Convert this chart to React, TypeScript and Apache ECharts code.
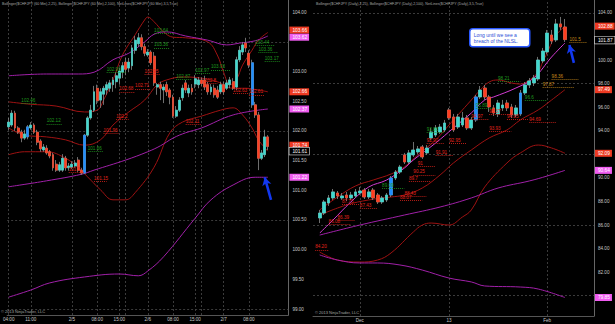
import React, { useEffect, useRef } from "react";
import * as echarts from "echarts";

// ---------- LEFT PANEL (60 min) ----------
const leftSlotCount = 89;
const leftLabelIdx = [0, 7, 20, 28, 35, 44, 52, 59, 68, 76];
const leftVLineIdx = [0, 7, 20, 28, 35, 37, 44, 52, 59, 61, 68, 76];
const leftHLines = [99, 100.5, 102, 103.5];
const leftHiddenTicks = [103.5];
const leftBlue = [6, 24, 77];
// [open, close, low, high]
const leftCandles: number[][] = [
  [102.07,102.15,102.02,102.22],[102.10,102.30,102.07,102.35],[102.30,102.05,102.00,102.34],[102.05,101.98,101.95,102.08],
  [101.98,101.88,101.81,102.02],[101.88,101.95,101.85,102.02],[101.90,102.07,101.86,102.10],[102.05,102.10,102.02,102.15],
  [102.10,101.98,101.95,102.13],[101.98,101.81,101.76,102.02],[101.83,101.70,101.65,101.86],[101.68,101.73,101.65,101.78],
  [101.71,101.63,101.60,101.76],[101.65,101.58,101.54,101.68],[101.60,101.38,101.33,101.63],[101.44,101.34,101.31,101.51],
  [101.34,101.43,101.31,101.48],[101.34,101.54,101.31,101.61],[101.54,101.38,101.33,101.58],[101.38,101.41,101.33,101.46],
  [101.39,101.44,101.36,101.49],[101.41,101.46,101.38,101.51],[101.51,101.34,101.31,101.56],[101.34,101.29,101.26,101.38],
  [101.29,101.93,101.28,101.95],[101.93,102.22,101.90,102.25],[102.22,102.35,102.19,102.44],[102.35,102.66,102.32,102.76],
  [102.72,102.51,102.45,102.78],[102.52,102.66,102.39,102.72],[102.62,102.72,102.44,102.76],[102.69,102.78,102.61,102.83],
  [102.72,102.81,102.66,102.86],[102.78,102.86,102.66,102.91],[102.83,102.93,102.72,102.99],[102.89,103.01,102.78,103.06],
  [102.99,103.10,102.89,103.16],[103.16,103.04,102.94,103.23],[103.06,103.16,102.99,103.23],[103.10,103.40,103.03,103.45],
  [103.36,103.53,103.30,103.60],[103.47,103.57,103.42,103.65],[103.57,103.42,103.36,103.63],[103.42,103.31,103.26,103.47],
  [103.28,103.33,103.25,103.38],[103.33,103.15,103.11,103.36],[103.26,102.81,102.76,103.33],[102.74,102.78,102.61,102.81],
  [102.78,102.72,102.52,102.83],[102.69,102.74,102.47,102.79],[102.78,102.66,102.59,102.83],[102.69,102.57,102.45,102.72],
  [102.57,102.25,102.22,102.61],[102.25,102.35,102.22,102.42],[102.35,102.52,102.32,102.57],[102.56,102.72,102.51,102.78],
  [102.81,102.69,102.64,102.86],[102.64,102.72,102.57,102.78],[102.72,102.66,102.61,102.79],[102.79,102.88,102.72,102.94],
  [102.78,102.86,102.72,102.91],[102.86,102.80,102.76,102.90],[102.86,102.74,102.69,102.93],[102.78,102.66,102.61,102.83],
  [102.66,102.74,102.61,102.79],[102.72,102.61,102.56,102.78],[102.69,102.57,102.54,102.76],[102.66,102.78,102.62,102.83],
  [102.78,102.66,102.61,102.83],[102.72,102.81,102.69,102.86],[102.78,102.86,102.72,102.91],[102.83,102.72,102.69,102.89],
  [102.74,103.20,102.69,103.25],[103.20,103.36,103.16,103.43],[103.33,103.45,103.28,103.50],[103.48,103.40,103.33,103.57],
  [103.31,103.11,103.06,103.36],[103.15,102.44,102.39,103.20],[102.44,102.27,102.22,102.49],[102.27,101.54,101.34,102.32],
  [101.54,101.63,101.51,101.68],[101.60,101.90,101.56,102.02],[101.90,101.74,101.68,101.93],
];
const leftBB25Upper = [[0,102.49],[7,102.45],[15,102.42],[24,102.32],[28,102.35],[30,102.52],[33,102.86],[36,103.28],[40,103.62],[43,103.87],[44,103.92],[46,103.84],[49,103.67],[52,103.58],[56,103.57],[63,103.50],[66,103.28],[68,102.99],[70,102.78],[72,102.86],[74,103.11],[77,103.36],[79,103.53],[82,103.66]];
const leftBB25Mid = [[0,102.05],[5,101.93],[12,101.90],[18,101.85],[24,101.76],[29,101.85],[33,102.10],[38,102.32],[43,102.52],[47,102.78],[50,102.86],[55,102.91],[61,102.89],[66,102.83],[71,102.72],[75,102.72],[79,102.69],[82,102.66]];
const leftBB25Lower = [[0,101.60],[5,101.65],[12,101.65],[18,101.54],[22,101.38],[26,101.17],[29,101.01],[33,100.84],[37,100.84],[40,100.96],[46,101.39],[51,101.97],[55,102.15],[61,102.25],[67,102.35],[71,102.39],[74,102.27],[77,102.05],[79,101.85],[82,101.66]];
const leftBB100Upper = [[0,102.93],[12,102.96],[22,102.96],[27,102.99],[33,103.20],[38,103.31],[43,103.50],[46,103.63],[50,103.67],[56,103.60],[63,103.53],[69,103.45],[73,103.48],[78,103.52],[82,103.60]];
const leftBB100Mid = [[0,101.06],[12,101.16],[23,101.27],[27,101.34],[37,101.51],[44,101.65],[48,101.75],[52,101.88],[56,101.97],[61,102.05],[71,102.27],[82,102.37]];
const leftBB100Lower = [[0,99.20],[7,99.32],[13,99.44],[24,99.54],[35,99.59],[41,99.56],[44,99.64],[49,99.88],[59,100.53],[64,100.84],[71,101.09],[78,101.22],[82,101.22]];
// NetLines labels: [text, from, to, level, kind]
const leftNetLabels: [string, number, number, number, string][] = [
  ["102.99", 31, 37, 102.99, "g"], ["102.87", 53, 58, 102.87, "g"], ["102.97", 59, 64, 102.97, "g"], ["103.03", 64, 70, 103.03, "g"],
  ["103.44", 78, 84, 103.44, "g"], ["103.36", 79, 85, 103.33, "g"], ["103.17", 81, 86, 103.17, "g"], ["103.64", 46, 52, 103.64, "g"],
  ["103.36", 46, 51, 103.40, "g"], ["102.46", 4, 9, 102.46, "g"], ["102.12", 12, 17, 102.12, "g"], ["101.66", 25, 30, 101.66, "g"],
  ["102.95", 43, 48, 102.95, "r"], ["102.71", 40, 45, 102.71, "r"], ["102.68", 35, 40, 102.66, "r"], ["102.2", 34, 38, 102.2, "r"],
  ["101.96", 30, 35, 101.96, "r"], ["101.3", 19, 24, 101.3, "r"], ["101.15", 27, 31, 101.15, "r"], ["102.11", 56, 61, 102.11, "r"],
  ["102.63", 71, 76, 102.63, "r"], ["102.61", 76, 81, 102.61, "r"], ["102.8", 62, 66, 102.8, "r"],
];
// axis price markers: [text, level, kind]
const leftMarkers: [string, number, string][] = [
  ["103.66", 103.70, "r"], ["103.62", 103.58, "p"], ["102.66", 102.66, "r"], ["102.37", 102.37, "p"],
  ["101.74", 101.76, "r"], ["101.61", 101.66, "k"], ["101.22", 101.22, "p"],
];

// ---------- RIGHT PANEL (Daily) ----------
const rightSlotCount = 63;
const rightLabels: Record<number, string> = { 10: "Dec", 30: "13", 52: "Feb" };
const rightVLineIdx = [10, 30, 52];
const rightHLines = [80, 86, 92, 98, 104];
const rightHiddenTicks = [80, 92, 102];
const rightBlue = [17, 36, 46];
const rightCandles: number[][] = [
  [86.60,87.02,86.17,87.28],[87.02,87.96,86.85,88.13],[87.87,88.30,87.62,88.55],[88.30,88.81,88.13,89.06],
  [88.72,88.47,88.21,88.89],[88.30,88.47,88.13,88.72],[88.55,88.30,88.04,88.81],[88.30,88.55,88.13,88.81],
  [88.47,88.81,88.30,89.06],[88.72,88.89,88.55,89.23],[88.97,88.38,88.21,89.14],[88.38,88.81,88.21,89.06],
  [88.97,88.30,88.13,89.14],[88.55,87.96,87.79,88.72],[87.96,88.30,87.79,88.47],[88.13,88.55,87.96,88.72],
  [88.55,89.99,88.38,90.16],[89.99,90.50,89.82,90.67],[90.50,90.93,90.33,91.10],[91.95,91.35,91.18,92.12],
  [91.35,92.12,91.18,92.37],[91.95,92.37,91.78,93.05],[92.20,92.46,92.03,92.71],[92.63,91.78,91.61,92.79],
  [92.12,92.54,91.95,92.79],[93.39,93.90,93.22,94.24],[93.64,94.24,93.47,94.49],[93.90,94.32,93.73,94.58],
  [94.07,94.66,93.90,94.92],[95.77,95.09,94.92,95.94],[95.17,94.07,93.90,95.43],[94.32,95.17,94.15,95.43],
  [94.49,95.09,94.32,95.60],[95.09,94.24,94.07,95.34],[94.24,94.92,94.07,95.17],[94.92,96.87,94.75,97.04],
  [96.87,97.46,96.70,97.80],[97.63,96.87,96.62,97.89],[96.87,96.02,95.60,97.04],[95.94,95.51,95.26,96.19],
  [95.43,96.36,95.17,96.62],[95.94,96.19,95.68,96.62],[96.36,95.94,95.68,96.62],[96.02,95.34,95.09,96.28],
  [95.34,95.94,95.17,96.19],[95.43,97.21,95.26,97.46],[97.21,97.89,97.04,98.14],[97.89,98.23,97.63,98.48],
  [98.06,98.48,97.80,98.74],[98.40,100.01,98.23,100.27],[99.93,100.77,99.76,101.03],[100.69,102.30,100.52,102.56],
  [102.13,101.62,101.37,102.56],[101.71,103.07,101.54,103.49],[103.07,102.81,102.56,103.66],[102.81,101.74,101.54,103.49],
];
const rightFirstIdx = 1;
const rightBB25Upper = [[1,87.28],[5,88.38],[9,89.31],[13,89.82],[17,90.33],[20,90.93],[23,91.95],[27,93.22],[30,94.49],[32,95.34],[35,96.61],[37,97.46],[39,98.14],[41,98.31],[44,98.06],[46,97.97],[48,98.31],[50,98.99],[51,99.84],[52,100.61],[53,101.45],[54,102.13],[56,102.88]];
const rightBB25Mid = [[1,86.85],[7,87.70],[12,88.13],[17,88.38],[20,88.55],[24,89.14],[28,90.25],[31,91.27],[35,92.37],[39,93.39],[43,94.07],[46,94.92],[50,95.77],[53,96.61],[56,97.49]];
const rightBB25Lower = [[1,83.71],[5,83.03],[10,82.86],[14,83.03],[17,83.63],[22,85.41],[24,86.00],[26,86.17],[30,86.00],[33,86.68],[35,87.28],[38,89.23],[43,91.27],[46,92.12],[50,92.79],[53,92.54],[56,92.09]];
const rightBB100Upper = [[1,85.15],[10,86.00],[20,86.85],[28,87.53],[35,88.30],[41,89.14],[48,89.74],[52,90.16],[56,90.64]];
const rightBB100Lower = [[1,83.46],[5,83.03],[10,82.78],[14,82.78],[19,82.61],[24,82.18],[30,81.50],[35,81.17],[38,80.83],[46,80.74],[50,80.57],[56,79.85]];
const rightMagenta = [[1,85.32],[4,86.43],[8,87.96],[12,89.23],[16,89.82],[20,90.84],[22,91.52],[27,92.96],[31,94.24],[35,95.51],[38,96.61],[40,96.87],[45,97.63],[49,98.48],[53,100.26],[56,101.45]];
const rightNetLabels: [string, number, number, number, string][] = [
  ["98.21", 41, 46, 98.21, "g"], ["96.6", 47, 52, 96.6, "g"], ["98.36", 53, 59, 98.36, "o"], ["97.87", 51, 58, 97.67, "o"],
  ["101.5", 57, 61, 101.5, "o"], ["95.89", 36, 40, 95.89, "g"], ["95.37", 39, 44, 95.37, "r"], ["94.97", 35, 39, 94.97, "r"],
  ["93.93", 39, 44, 93.93, "r"], ["94.95", 43, 48, 94.95, "r"], ["94.69", 48, 54, 94.69, "r"], ["93.86", 25, 29, 93.86, "g"],
  ["92.95", 30, 34, 92.95, "r"], ["92.92", 25, 29, 92.92, "r"], ["91.91", 27, 31, 91.91, "r"], ["91", 23, 27, 91.0, "r"],
  ["90.25", 22, 27, 90.25, "r"], ["89.7", 21, 26, 89.7, "r"], ["89.09", 15, 20, 89.09, "g"], ["88.43", 20, 25, 88.43, "r"],
  ["88.07", 19, 24, 88.07, "r"], ["87.75", 6, 10, 87.75, "r"], ["87.43", 10, 14, 87.43, "r"], ["86.39", 5, 9, 86.39, "r"],
  ["86.08", 3, 8, 86.08, "r"], ["84.20", 0, 3, 83.90, "r"],
];
const rightMarkers: [string, number, string][] = [
  ["102.88", 102.88, "r"], ["101.87", 101.7, "k"], ["97.49", 97.49, "r"], ["92.09", 92.09, "r"], ["90.64", 90.64, "p"], ["79.85", 79.85, "p"],
];

const legendLeft = "Bollinger($CHFJPY (60 Min),2,25), Bollinger($CHFJPY (60 Min),2,100), NetLines($CHFJPY (60 Min),3,5,True)";
const legendRight = "Bollinger($CHFJPY (Daily),2,25), Bollinger($CHFJPY (Daily),2,100), NetLines($CHFJPY (Daily),3,5,True)";
const copyright = "© 2013 NinjaTrader, LLC";
const calloutText = "Long until we see a\nbreach of the NLSL.";

const UP = "#3fd9cf";
const DOWN = "#ff3d1f";
const BLUE = "#1e8fff";
const WICK = "#8a8a8a";
const RED_LINE = "#9e1212";
const PURPLE = "#a020a8";
const MAGENTA = "#d23bd2";
const GRID = "#4a4a4a";
const FONT = "Liberation Sans, Arial, sans-serif";
const netColor: Record<string, string> = { g: "#1f9a1f", r: "#e0231b", o: "#c98a1a" };
const markBg: Record<string, string> = { r: "#ee3a22", p: "#f05cf0", k: "#000" };

function leftCats() {
  const out: string[] = [];
  for (let i = 0; i < leftSlotCount; i++) {
    const t = 4 + i;
    const day = 4 + Math.floor(t / 24);
    const h = t % 24;
    out.push(h === 0 ? `2/${day}` : `${h < 10 ? "0" + h : h}:00`);
  }
  return out;
}
function rightCats() {
  const out: string[] = [];
  const d = new Date(Date.UTC(2012, 10, 19));
  while (out.length < rightSlotCount) {
    const wd = d.getUTCDay();
    const m = d.getUTCMonth(), day = d.getUTCDate();
    const holiday = (m === 11 && day === 25) || (m === 0 && day === 1);
    if (wd !== 0 && wd !== 6 && !holiday) out.push(`${d.getUTCFullYear()}-${m + 1}-${day}`);
    d.setUTCDate(d.getUTCDate() + 1);
  }
  return out;
}

function candleSeries(name: string, data: number[][], blue: number[], first: number, xi: number, barW: number) {
  const pad: any[] = [];
  for (let i = 0; i < first; i++) pad.push("-");
  const wick = {
    type: "candlestick", name: name + "w", xAxisIndex: xi, yAxisIndex: xi, barWidth: barW, z: 3,
    data: pad.concat(data),
    itemStyle: { color: WICK, color0: WICK, borderColor: WICK, borderColor0: WICK, borderWidth: 0.8 },
  };
  const body = {
    type: "candlestick", name: name + "b", xAxisIndex: xi, yAxisIndex: xi, barWidth: barW, z: 4,
    data: pad.concat(
      data.map((c, i) => {
        const lo = Math.min(c[0], c[1]), hi = Math.max(c[0], c[1]);
        const item: any = { value: [c[0], c[1], lo, hi] };
        if (blue.indexOf(i + first) >= 0) item.itemStyle = { color: BLUE, color0: BLUE, borderColor: BLUE, borderColor0: BLUE };
        return item;
      })
    ),
    itemStyle: { color: UP, color0: DOWN, borderColor: UP, borderColor0: DOWN, borderWidth: 0.4 },
  };
  return [wick, body];
}

function lineS(data: number[][], color: string, xi: number, width = 1) {
  return {
    type: "line", xAxisIndex: xi, yAxisIndex: xi, data, showSymbol: false, symbol: "none", smooth: 0.4, z: 2,
    lineStyle: { color, width }, silent: true,
  };
}

function gridSeries(xi: number, vIdx: number[], hLines: number[]) {
  return {
    type: "line", xAxisIndex: xi, yAxisIndex: xi, data: [], z: 1, silent: true,
    markLine: {
      silent: true, symbol: "none", z: 1, animation: false,
      label: { show: false },
      lineStyle: { color: GRID, type: [2, 2], width: 0.8 },
      data: [...vIdx.map((v) => ({ xAxis: v })), ...hLines.map((v) => ({ yAxis: v }))],
    },
  };
}

function netSeries(xi: number, labels: [string, number, number, number, string][]) {
  return {
    type: "line", xAxisIndex: xi, yAxisIndex: xi, data: [], z: 6, silent: true,
    markLine: {
      silent: true, symbol: "none", animation: false, z: 6,
      data: labels.map(([t, a, b, v, k]) => [
        {
          coord: [a, v],
          lineStyle: { color: netColor[k], type: [1, 1], width: 0.8 },
          label: { show: true, formatter: t, position: "insideStartTop", distance: [0, 0.5], color: netColor[k], fontSize: 4.6, fontFamily: FONT },
        },
        { coord: [b, v] },
      ]),
    },
  };
}

function markerSeries(xi: number, markers: [string, number, string][]) {
  return {
    type: "line", xAxisIndex: xi, yAxisIndex: xi, data: [], z: 8, silent: true,
    markLine: {
      silent: true, symbol: "none", animation: false, z: 8,
      lineStyle: { color: "rgba(0,0,0,0)", width: 0.5, type: "solid" },
      data: markers.map(([t, v, k]) => ({
        yAxis: v,
        label: {
          show: true, position: "end", distance: 1, formatter: t, color: "#fff", fontSize: 4.8, fontFamily: FONT,
          backgroundColor: markBg[k], padding: [1, 2, 1, 3],
          borderColor: k === "k" ? "#ddd" : markBg[k], borderWidth: k === "k" ? 0.6 : 0,
        },
      })),
    },
  };
}

function arrowSeries(xi: number, from: number[], to: number[]) {
  return {
    type: "line", xAxisIndex: xi, yAxisIndex: xi, data: [], z: 9, silent: true,
    markLine: {
      silent: true, symbol: ["none", "arrow"], symbolSize: [7, 8], animation: false, z: 9,
      lineStyle: { color: "#1238f0", width: 2.6, type: "solid" },
      label: { show: false },
      data: [[{ coord: from }, { coord: to }]],
    },
  };
}

function tickFmt(step: number, hidden: number[]) {
  return (v: number) => {
    if (Math.abs(v / step - Math.round(v / step)) > 1e-6) return "";
    if (hidden.some((h) => Math.abs(h - v) < 1e-6)) return "";
    return v.toFixed(2);
  };
}

export default function App() {
  const ref = useRef<HTMLDivElement>(null);
  useEffect(() => {
    if (!ref.current) return;
    const chart = echarts.init(ref.current, undefined, { renderer: "svg", width: 615, height: 324 });
    const lc = leftCats();
    const rc = rightCats();
    const axisLabelStyle = { color: "#c8c8c8", fontSize: 4.6, fontFamily: FONT };
    const option: any = {
      animation: false,
      backgroundColor: "#000",
      textStyle: { fontFamily: FONT },
      grid: [
        { left: 0.8, top: 0, width: 287.6, height: 315 },
        { left: 313, top: 0, width: 281, height: 316 },
      ],
      xAxis: [
        {
          type: "category", gridIndex: 0, data: lc, boundaryGap: true,
          axisLine: { show: true, lineStyle: { color: "#555" } }, axisTick: { show: false }, splitLine: { show: false },
          axisLabel: { ...axisLabelStyle, margin: 2, interval: (i: number) => leftLabelIdx.indexOf(i) >= 0 },
        },
        {
          type: "category", gridIndex: 1, data: rc, boundaryGap: true,
          axisLine: { show: true, lineStyle: { color: "#555" } }, axisTick: { show: false }, splitLine: { show: false },
          axisLabel: { ...axisLabelStyle, margin: 2, interval: (i: number) => rightLabels[i] !== undefined, formatter: (_v: string, i: number) => rightLabels[i] || "" },
        },
      ],
      yAxis: [
        {
          type: "value", gridIndex: 0, position: "right", min: 98.899, max: 104.207, minInterval: 0.5, maxInterval: 0.5,
          axisLine: { show: true, lineStyle: { color: "#666" } }, axisTick: { show: false }, splitLine: { show: false },
          axisLabel: { ...axisLabelStyle, margin: 4, formatter: tickFmt(0.5, leftHiddenTicks) },
        },
        {
          type: "value", gridIndex: 1, position: "right", min: 78.28, max: 105.1, minInterval: 2, maxInterval: 2,
          axisLine: { show: true, lineStyle: { color: "#666" } }, axisTick: { show: false }, splitLine: { show: false },
          axisLabel: { ...axisLabelStyle, margin: 4, formatter: tickFmt(2, rightHiddenTicks) },
        },
      ],
      series: [
        gridSeries(0, leftVLineIdx, leftHLines),
        gridSeries(1, rightVLineIdx, rightHLines),
        lineS(leftBB25Upper, RED_LINE, 0),
        lineS(leftBB25Mid, RED_LINE, 0),
        lineS(leftBB25Lower, RED_LINE, 0),
        lineS(leftBB100Upper, PURPLE, 0),
        lineS(leftBB100Mid, PURPLE, 0),
        lineS(leftBB100Lower, PURPLE, 0),
        ...candleSeries("L", leftCandles, leftBlue, 0, 0, 2.4),
        lineS(rightBB25Upper, RED_LINE, 1),
        lineS(rightBB25Mid, RED_LINE, 1),
        lineS(rightBB25Lower, RED_LINE, 1),
        lineS(rightBB100Upper, PURPLE, 1),
        lineS(rightBB100Lower, PURPLE, 1),
        lineS(rightMagenta, MAGENTA, 1),
        ...candleSeries("R", rightCandles, rightBlue, rightFirstIdx, 1, 3.2),
        netSeries(0, leftNetLabels),
        netSeries(1, rightNetLabels),
        markerSeries(0, leftMarkers),
        markerSeries(1, rightMarkers),
        arrowSeries(0, [83, 100.84], [81, 101.22]),
        arrowSeries(1, [58, 99.76], [57, 101.28]),
      ],
      graphic: [
        { type: "text", left: 2, top: 2, z: 20, style: { text: legendLeft, fill: "#a8a8a8", fontSize: 3.6, fontFamily: FONT } },
        { type: "text", left: 316, top: 2, z: 20, style: { text: legendRight, fill: "#a8a8a8", fontSize: 3.6, fontFamily: FONT } },
        { type: "text", left: 1, top: 309, z: 20, style: { text: copyright, fill: "#a8a8a8", fontSize: 4, fontFamily: FONT } },
        { type: "text", left: 315, top: 310, z: 20, style: { text: copyright, fill: "#a8a8a8", fontSize: 4, fontFamily: FONT } },
        {
          type: "group", left: 469, top: 28, z: 20,
          children: [
            { type: "rect", shape: { x: 0, y: 0, width: 60, height: 18, r: 3 }, style: { fill: "#fff", stroke: "#2a58ff", lineWidth: 1.5 } },
            { type: "text", x: 4, y: 3.5, style: { text: calloutText, fill: "#2b4fd8", fontSize: 5, lineHeight: 6, fontFamily: FONT } },
          ],
        },
      ],
    };
    chart.setOption(option);
    return () => chart.dispose();
  }, []);
  return <div ref={ref} style={{ position: "fixed", left: 0, top: 0, width: 615, height: 324 }} />;
}
